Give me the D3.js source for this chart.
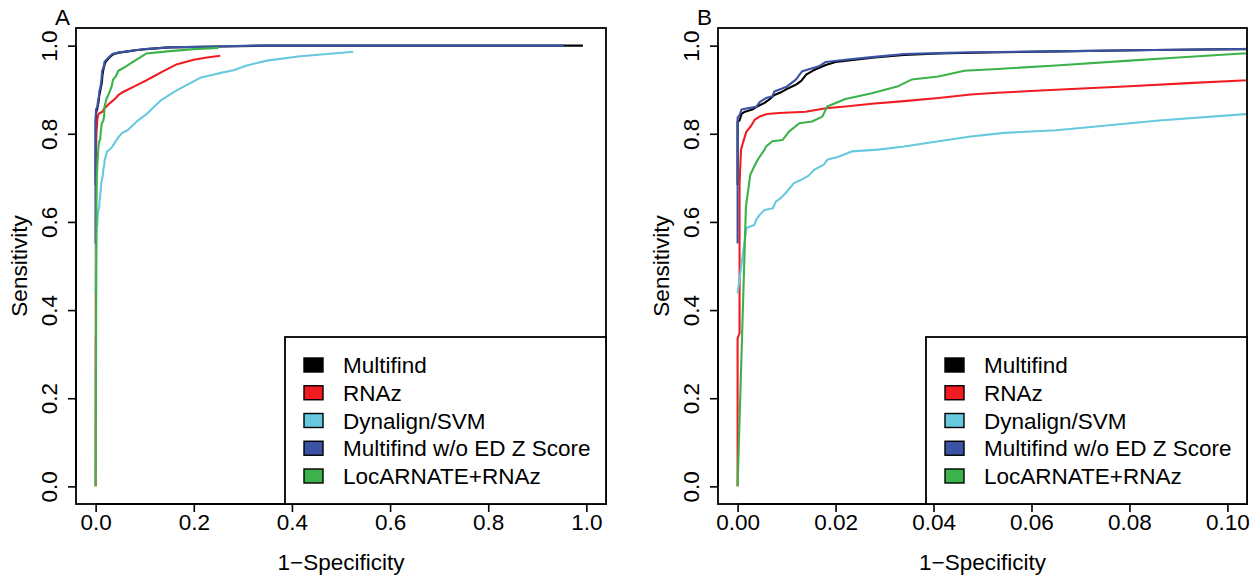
<!DOCTYPE html>
<html>
<head>
<meta charset="utf-8">
<script src="https://cdn.jsdelivr.net/npm/d3@7"></script>
<style>
  html, body { margin: 0; padding: 0; background: #fff; }
  svg { display: block; }
  text { font-family: "Liberation Sans", Arial, Helvetica, sans-serif; fill: #000; }
</style>
</head>
<body>
<svg id="chart" width="1252" height="579"></svg>
<script>
// ROC curves: [1 - specificity, sensitivity]
const multifind = [
  [0, 0.684], [0, 0.828], [0.0004, 0.830], [0.0008, 0.845], [0.0015, 0.850], [0.003, 0.855],
  [0.004, 0.862], [0.0055, 0.870], [0.0065, 0.878], [0.0075, 0.888], [0.009, 0.895],
  [0.0105, 0.904], [0.012, 0.912], [0.013, 0.920], [0.014, 0.934], [0.0155, 0.944],
  [0.018, 0.956], [0.020, 0.963], [0.024, 0.968], [0.028, 0.973], [0.034, 0.979],
  [0.041, 0.982], [0.048, 0.984], [0.065, 0.987], [0.085, 0.990], [0.103, 0.992],
  [0.15, 0.996], [0.25, 0.998], [0.35, 1.0], [0.993, 1.0]
];
const rnaz = [
  [0, 0], [0, 0.336], [0.0004, 0.348], [0.0004, 0.690], [0.0007, 0.764], [0.0011, 0.780],
  [0.0018, 0.805], [0.0027, 0.817], [0.0035, 0.832], [0.0045, 0.839], [0.006, 0.845],
  [0.0085, 0.847], [0.0139, 0.850], [0.018, 0.858], [0.022, 0.862], [0.0274, 0.868],
  [0.034, 0.874], [0.041, 0.881], [0.0476, 0.889], [0.053, 0.893], [0.065, 0.900],
  [0.080, 0.908], [0.092, 0.915], [0.103, 0.921], [0.118, 0.930], [0.138, 0.942],
  [0.166, 0.958], [0.200, 0.968], [0.227, 0.973], [0.254, 0.977]
];
const dynalignSvm = [
  [0, 0.438], [0.0018, 0.586], [0.0034, 0.593], [0.0038, 0.605], [0.0045, 0.616],
  [0.0055, 0.627], [0.0072, 0.631], [0.0078, 0.646], [0.0088, 0.654], [0.0100, 0.668],
  [0.0115, 0.688], [0.0129, 0.695], [0.0145, 0.705], [0.0156, 0.718], [0.0176, 0.730],
  [0.0183, 0.741], [0.0206, 0.748], [0.0233, 0.760], [0.0287, 0.764], [0.034, 0.771],
  [0.041, 0.783], [0.0476, 0.794], [0.0544, 0.802], [0.065, 0.808], [0.070, 0.813],
  [0.086, 0.830], [0.103, 0.844], [0.132, 0.875], [0.160, 0.895], [0.186, 0.911],
  [0.213, 0.927], [0.250, 0.937], [0.281, 0.944], [0.308, 0.955], [0.349, 0.966],
  [0.417, 0.976], [0.484, 0.982], [0.525, 0.986]
];
const multifindNoEdz = [
  [0, 0.551], [0, 0.836], [0.0005, 0.845], [0.0008, 0.855], [0.002, 0.858], [0.0038, 0.861],
  [0.0045, 0.872], [0.0058, 0.881], [0.0071, 0.885], [0.0075, 0.896], [0.0099, 0.906],
  [0.0119, 0.923], [0.0132, 0.942], [0.0166, 0.953], [0.018, 0.963], [0.022, 0.968],
  [0.0274, 0.974], [0.0341, 0.981], [0.0409, 0.983], [0.0476, 0.985], [0.065, 0.987],
  [0.085, 0.990], [0.103, 0.9925], [0.15, 0.996], [0.25, 0.998], [0.32, 1.0], [0.955, 1.0]
];
const locarnateRnaz = [
  [0, 0], [0.0017, 0.635], [0.0026, 0.707], [0.0034, 0.726], [0.0041, 0.741], [0.0055, 0.764],
  [0.0058, 0.771], [0.0071, 0.783], [0.0092, 0.786], [0.0105, 0.805], [0.0126, 0.824],
  [0.0152, 0.828], [0.0173, 0.839], [0.0183, 0.862], [0.022, 0.879], [0.0274, 0.892],
  [0.0328, 0.908], [0.0355, 0.923], [0.041, 0.930], [0.0463, 0.943], [0.053, 0.947],
  [0.065, 0.955], [0.080, 0.966], [0.090, 0.973], [0.103, 0.982], [0.146, 0.987],
  [0.200, 0.992], [0.250, 0.995]
];

const seriesNames = ["Multifind", "RNAz", "Dynalign/SVM", "Multifind w/o ED Z Score", "LocARNATE+RNAz"];
const seriesValues = [multifind, rnaz, dynalignSvm, multifindNoEdz, locarnateRnaz];
const seriesColors = ["#000000", "#f01c22", "#66c9de", "#3b53a5", "#3bb24a"];

const panelLabels = ["A", "B"];
const xTicksA = [0, 0.2, 0.4, 0.6, 0.8, 1.0];
const xTicksB = [0, 0.02, 0.04, 0.06, 0.08, 0.10];
const yTicks = [0, 0.2, 0.4, 0.6, 0.8, 1.0];
const xTitle = "1\u2212Specificity";
const yTitle = "Sensitivity";

const FONT = 22.5;
const svg = d3.select("#chart");

// each x range is padded by 4% on both sides
const panels = [
  { label: panelLabels[0], left: 76, right: 606, xDomain: [-0.04, 1.04], ticks: xTicksA, fmt: d3.format(".1f") },
  { label: panelLabels[1], left: 718, right: 1247, xDomain: [-0.004, 0.104], ticks: xTicksB, fmt: d3.format(".2f") }
];
const plotTop = 28, plotBottom = 504;

panels.forEach((p, i) => {
  const x = d3.scaleLinear().domain(p.xDomain).range([p.left, p.right]);
  const y = d3.scaleLinear().domain([-0.04, 1.04]).range([plotBottom, plotTop]);
  const g = svg.append("g");

  const clipId = "clip" + i;
  svg.append("clipPath").attr("id", clipId)
    .append("rect").attr("x", p.left).attr("y", plotTop)
    .attr("width", p.right - p.left).attr("height", plotBottom - plotTop);

  // curves, clipped to the plot box
  const line = d3.line().x(d => x(d[0])).y(d => y(d[1]));
  const curves = g.append("g").attr("clip-path", `url(#${clipId})`);
  seriesValues.forEach((vals, k) => {
    curves.append("path").datum(vals)
      .attr("d", line)
      .attr("fill", "none")
      .attr("stroke", seriesColors[k])
      .attr("stroke-width", 2.1)
      .attr("stroke-linejoin", "round");
  });

  // x axis: line spans first to last tick only
  const xa = g.append("g").attr("transform", `translate(0,${plotBottom})`)
    .call(d3.axisBottom(x).tickValues(p.ticks).tickFormat(p.fmt).tickSize(8).tickSizeOuter(0));
  xa.attr("font-family", null).attr("font-size", null);
  xa.select(".domain").attr("d", `M${x(p.ticks[0])},0H${x(p.ticks[p.ticks.length - 1])}`)
    .attr("stroke-width", 1.6);
  xa.selectAll(".tick line").attr("stroke-width", 1.6);
  xa.selectAll(".tick text").attr("y", 26).attr("dy", null)
    .style("font-size", FONT + "px");

  // y axis with labels parallel to the axis
  const ya = g.append("g").attr("transform", `translate(${p.left},0)`)
    .call(d3.axisLeft(y).tickValues(yTicks).tickFormat(d3.format(".1f")).tickSize(8).tickSizeOuter(0));
  ya.attr("font-family", null).attr("font-size", null);
  ya.select(".domain").attr("d", `M0,${y(yTicks[0])}V${y(yTicks[yTicks.length - 1])}`)
    .attr("stroke-width", 1.6);
  ya.selectAll(".tick line").attr("stroke-width", 1.6);
  ya.selectAll(".tick text")
    .attr("x", 0).attr("dy", null).attr("text-anchor", "middle")
    .attr("transform", "translate(-19,0) rotate(-90)")
    .style("font-size", FONT + "px");

  // plot box
  g.append("rect").attr("x", p.left).attr("y", plotTop)
    .attr("width", p.right - p.left).attr("height", plotBottom - plotTop)
    .attr("fill", "none").attr("stroke", "#000").attr("stroke-width", 1.8);

  // titles and panel letter
  g.append("text").attr("x", (p.left + p.right) / 2).attr("y", 569.5)
    .attr("text-anchor", "middle").style("font-size", FONT + "px").text(xTitle);
  g.append("text")
    .attr("transform", `translate(${p.left - 49},${(plotTop + plotBottom) / 2}) rotate(-90)`)
    .attr("text-anchor", "middle").style("font-size", FONT + "px").text(yTitle);
  g.append("text").attr("x", p.left - 21).attr("y", 25)
    .style("font-size", FONT + "px").text(p.label);

  // legend in the bottom-right corner
  const lw = 321, lTop = 337;
  const lx = p.right - lw;
  const leg = g.append("g");
  leg.append("rect").attr("x", lx).attr("y", lTop).attr("width", lw).attr("height", plotBottom - lTop)
    .attr("fill", "#fff").attr("stroke", "#000").attr("stroke-width", 1.8);
  const rowY = d3.scaleLinear().domain([0, seriesNames.length - 1]).range([365, 476]);
  seriesNames.forEach((name, k) => {
    leg.append("rect").attr("x", lx + 19).attr("y", rowY(k) - 7)
      .attr("width", 19).attr("height", 14)
      .attr("fill", seriesColors[k]).attr("stroke", "#000").attr("stroke-width", 1.4);
    leg.append("text").attr("x", lx + 58).attr("y", rowY(k)).attr("dy", "0.36em")
      .style("font-size", FONT + "px").text(name);
  });
});
</script>
</body>
</html>
